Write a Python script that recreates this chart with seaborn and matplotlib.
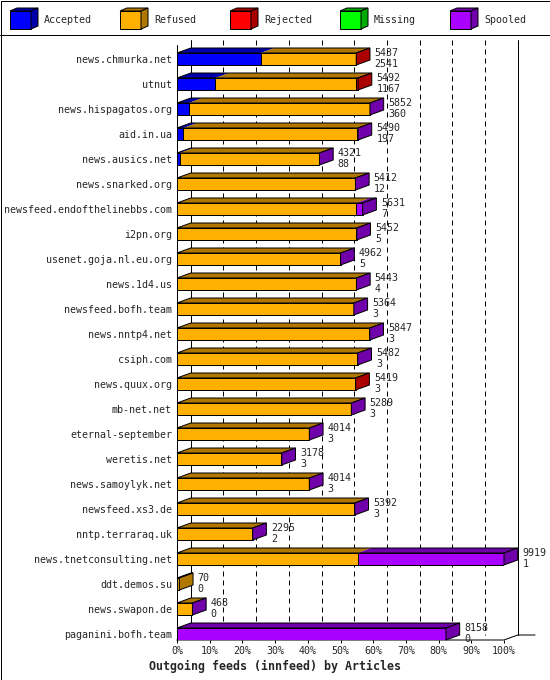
import numpy as np
import pandas as pd
import seaborn as sns
import matplotlib.pyplot as plt
from matplotlib.patches import Polygon, Rectangle

# data
hosts = ["news.chmurka.net", "utnut", "news.hispagatos.org", "aid.in.ua",
         "news.ausics.net", "news.snarked.org", "newsfeed.endofthelinebbs.com",
         "i2pn.org", "usenet.goja.nl.eu.org", "news.1d4.us", "newsfeed.bofh.team",
         "news.nntp4.net", "csiph.com", "news.quux.org", "mb-net.net",
         "eternal-september", "weretis.net", "news.samoylyk.net", "newsfeed.xs3.de",
         "nntp.terraraq.uk", "news.tnetconsulting.net", "ddt.demos.su",
         "news.swapon.de", "paganini.bofh.team"]
offered = [5437, 5492, 5852, 5490, 4321, 5412, 5631, 5452, 4962, 5443, 5364, 5847,
           5482, 5419, 5289, 4014, 3178, 4014, 5392, 2295, 9919, 70, 468, 8158]
accepted = [2541, 1167, 360, 197, 88, 12, 7, 5, 5, 4, 3, 3,
            3, 3, 3, 3, 3, 3, 3, 2, 1, 0, 0, 0]
refused = [2886, 4255, 5482, 5268, 4223, 5390, 5434, 5437, 4947, 5429, 5351, 5834,
           5469, 5406, 5276, 4001, 3165, 4001, 5379, 2283, 5480, 70, 440, 0]
rejected = [10, 70, 0, 15, 0, 0, 0, 0, 0, 0, 0, 0,
            0, 10, 0, 0, 0, 0, 0, 0, 0, 0, 0, 0]
missing = [0, 0, 0, 0, 0, 0, 0, 0, 0, 0, 0, 0,
           0, 0, 0, 0, 0, 0, 0, 0, 0, 0, 0, 0]
spooled = [0, 0, 10, 10, 10, 10, 190, 10, 10, 10, 10, 10,
           10, 0, 10, 10, 10, 10, 10, 10, 4438, 0, 28, 8158]

series = ["Accepted", "Refused", "Rejected", "Missing", "Spooled"]
front = {"Accepted": "#0000ff", "Refused": "#ffb000", "Rejected": "#ff0000",
         "Missing": "#00ff00", "Spooled": "#aa00ff"}
dark = {"Accepted": "#0000aa", "Refused": "#b07800", "Rejected": "#aa0000",
        "Missing": "#00aa00", "Spooled": "#7000aa"}

df = pd.DataFrame({"host": hosts, "Accepted": accepted, "Refused": refused,
                   "Rejected": rejected, "Missing": missing, "Spooled": spooled})
scale = 100.0 / max(offered)
pct = df[series] * scale
cum = pct.cumsum(axis=1)

sns.set_style("white")
plt.rcParams["font.family"] = ["DejaVu Sans Mono"]

fig = plt.figure(figsize=(5.5, 6.8), dpi=100)
ax = fig.add_axes([177 / 550, 1 - 640 / 680, 327 / 550, 600 / 680])

h = 0.48          # bar thickness (rows)
dx, dy = 4.2, 0.2  # 3d depth in data units
lw = 0.72
ytop, ybot = -0.76, 23.24

# front faces, stacked from the longest cumulative down
for name in reversed(series):
    sns.barplot(x=cum[name], y=df["host"], orient="h", color=front[name],
                saturation=1, width=h, edgecolor="black", linewidth=lw, ax=ax)
for bar in ax.patches:
    bar.set_zorder(2)

# back wall grid
for p in range(10, 100, 10):
    ax.plot([p + dx, p + dx], [ytop, ybot - dy], color="black", lw=lw,
            ls=(0, (5, 4)), zorder=0.5, clip_on=False)
for p in (0, 100):
    ax.plot([p + dx, p + dx], [ytop, ybot - dy], color="black", lw=lw,
            zorder=0.5, clip_on=False)
ax.plot([0, 0], [ytop + dy, ybot], color="black", lw=lw, zorder=0.5, clip_on=False)
# floor
ax.plot([0, 100, 100 + dx, 109.5], [ybot, ybot, ybot - dy, ybot - dy],
        color="black", lw=lw, zorder=0.5, clip_on=False)
ax.plot([0, dx], [ybot, ybot - dy], color="black", lw=lw, zorder=0.5, clip_on=False)

# top and side faces
for i in range(len(hosts)):
    yt, yb = i - h / 2, i + h / 2
    left, last = 0.0, None
    for name in series:
        w = pct[name].iloc[i]
        if w <= 0:
            continue
        ax.add_patch(Polygon([(left, yt), (left + w, yt), (left + w + dx, yt - dy),
                              (left + dx, yt - dy)], closed=True, fc=dark[name],
                             ec="none", zorder=3, clip_on=False))
        left += w
        last = name
    end = left
    ax.add_patch(Polygon([(0, yt), (end, yt), (end + dx, yt - dy), (dx, yt - dy)],
                         closed=True, fc="none", ec="black", lw=lw, zorder=3.5,
                         clip_on=False))
    if last is not None:
        ax.add_patch(Polygon([(end, yt), (end + dx, yt - dy), (end + dx, yb - dy),
                              (end, yb)], closed=True, fc=dark[last], ec="black",
                             lw=lw, zorder=3.5, clip_on=False))
    ax.text(end + dx + 1.4, i - 0.03, f"{offered[i]}\n{accepted[i]}", fontsize=7.2,
            ha="left", va="center", linespacing=1.1, zorder=4)

ax.set_xlim(0, 100)
ax.set_ylim(ybot, ytop)
ax.set_xticks(range(0, 101, 10))
ax.set_xticklabels([f"{p}%" for p in range(0, 101, 10)])
ax.tick_params(axis="x", bottom=True, length=2.2, width=lw, pad=2, labelsize=7.2,
               direction="out", color="black")
ax.tick_params(axis="y", left=False, length=0, pad=3.6, labelsize=7.2)
ax.set_xlabel("")
ax.set_ylabel("")
for s in ax.spines.values():
    s.set_visible(False)
ax.patch.set_visible(False)

# legend band and frame
lax = fig.add_axes([0, 0, 1, 1], zorder=-1)
lax.set_xlim(0, 550)
lax.set_ylim(680, 0)
lax.axis("off")
lax.add_patch(Rectangle((0.5, 0.5), 549, 679, fc="none", ec="black", lw=lw))
lax.plot([0, 550], [35, 35], color="black", lw=lw)
for k, name in enumerate(series):
    x0 = 10 + 110 * k
    lax.add_patch(Rectangle((x0, 11), 21, 18, fc=front[name], ec="black", lw=lw))
    lax.add_patch(Polygon([(x0, 11), (x0 + 21, 11), (x0 + 28, 8), (x0 + 7, 8)],
                          closed=True, fc=dark[name], ec="black", lw=lw))
    lax.add_patch(Polygon([(x0 + 21, 11), (x0 + 28, 8), (x0 + 28, 26), (x0 + 21, 29)],
                          closed=True, fc=dark[name], ec="black", lw=lw))
    lax.text(x0 + 34, 20, name, fontsize=7.2, ha="left", va="center")

fig.text(0.5, 1 - 666 / 680, "Outgoing feeds (innfeed) by Articles", fontsize=8.4,
         fontweight="bold", ha="center", va="center")

fig.savefig("out.png", dpi=100)
